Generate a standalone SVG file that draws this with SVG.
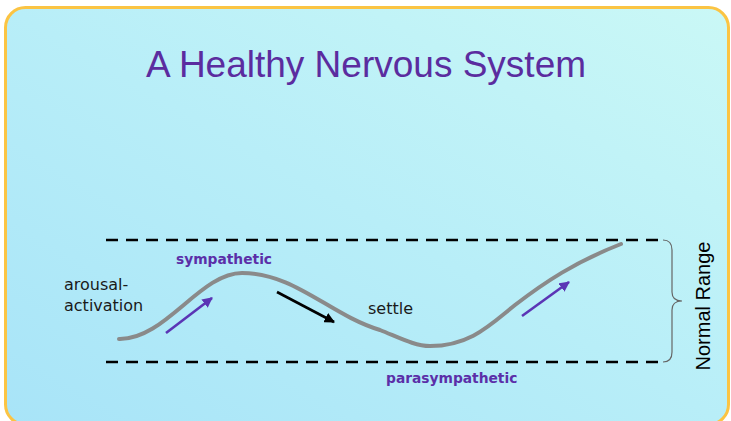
<svg xmlns="http://www.w3.org/2000/svg" width="731" height="421" viewBox="0 0 731 421">
  <defs>
    <linearGradient id="bg" x1="0" y1="1" x2="1" y2="0">
      <stop offset="0" stop-color="#A8E4F8"/>
      <stop offset="0.5" stop-color="#B8EEF8"/>
      <stop offset="1" stop-color="#CAF8F6"/>
    </linearGradient>
    <marker id="ahP" viewBox="0 0 10 10" refX="9" refY="5" markerWidth="4" markerHeight="4" orient="auto" markerUnits="strokeWidth">
      <path d="M0,0 L10,5 L0,10 z" fill="#5B35B5"/>
    </marker>
    <marker id="ahK" viewBox="0 0 10 10" refX="9" refY="5" markerWidth="4" markerHeight="4" orient="auto" markerUnits="strokeWidth">
      <path d="M0,0 L10,5 L0,10 z" fill="#000"/>
    </marker>
  </defs>
  <style>
    .title { font-family: "Liberation Sans", Arial, sans-serif; font-size: 37px; fill: #5B2C9F; }
    .lbl { font-family: "DejaVu Sans", "Liberation Sans", sans-serif; font-size: 16px; fill: #1a1a1a; }
    .plbl { font-family: "DejaVu Sans", "Liberation Sans", sans-serif; font-size: 13.8px; font-weight: bold; fill: #5B2FA8; }
    .dash { stroke: #000; stroke-width: 2.6; stroke-dasharray: 12 8; fill: none; }
    .curve { stroke: #8A8A8A; stroke-width: 4; fill: none; stroke-linecap: round; }
    .parr { stroke: #5B35B5; stroke-width: 2.6; fill: none; marker-end: url(#ahP); }
    .karr { stroke: #000; stroke-width: 2.6; fill: none; marker-end: url(#ahK); }
    .brace { stroke: #666; stroke-width: 1.2; fill: none; }
    .range { font-family: "Liberation Sans", Arial, sans-serif; font-size: 20px; fill: #000; }
  </style>
  <rect x="0" y="0" width="731" height="421" fill="#FFFFFF"/>
  <rect id="panel" x="5.5" y="7.5" width="723" height="417" rx="20" ry="20" fill="url(#bg)" stroke="#FBC443" stroke-width="3"/>
  <text id="title" class="title" x="366" y="77" text-anchor="middle">A Healthy Nervous System</text>

  <g id="range-lines">
    <line class="dash" x1="106" y1="240" x2="664" y2="240"/>
    <line class="dash" x1="106" y1="362" x2="664" y2="362"/>
  </g>

  <g id="wave">
    <path class="curve" d="M119,339 C165,340 200,273 242,273 C295,273 330,315 380,330 C400,338 415,346 430,346 C470,346 490,325 515,305 C545,282 575,262 621,244"/>
  </g>

  <g id="connectors">
    <line class="parr" x1="166" y1="333" x2="212" y2="298"/>
    <line class="karr" x1="277" y1="292" x2="334" y2="322"/>
    <line class="parr" x1="522" y1="316" x2="569" y2="282"/>
  </g>

  <g id="labels">
    <text class="lbl" x="64" y="290">arousal-</text>
    <text class="lbl" x="64" y="311">activation</text>
    <text class="plbl" x="176" y="264">sympathetic</text>
    <text class="lbl" x="368" y="314">settle</text>
    <text class="plbl" x="386" y="383">parasympathetic</text>
  </g>

  <g id="normal-range">
    <path class="brace" d="M663,240 Q672,240 672,250 L672,292 Q672,301 682,301 Q672,301 672,310 L672,352 Q672,362 663,362"/>
    <text class="range" transform="translate(710,306) rotate(-90)" text-anchor="middle">Normal Range</text>
  </g>
</svg>
